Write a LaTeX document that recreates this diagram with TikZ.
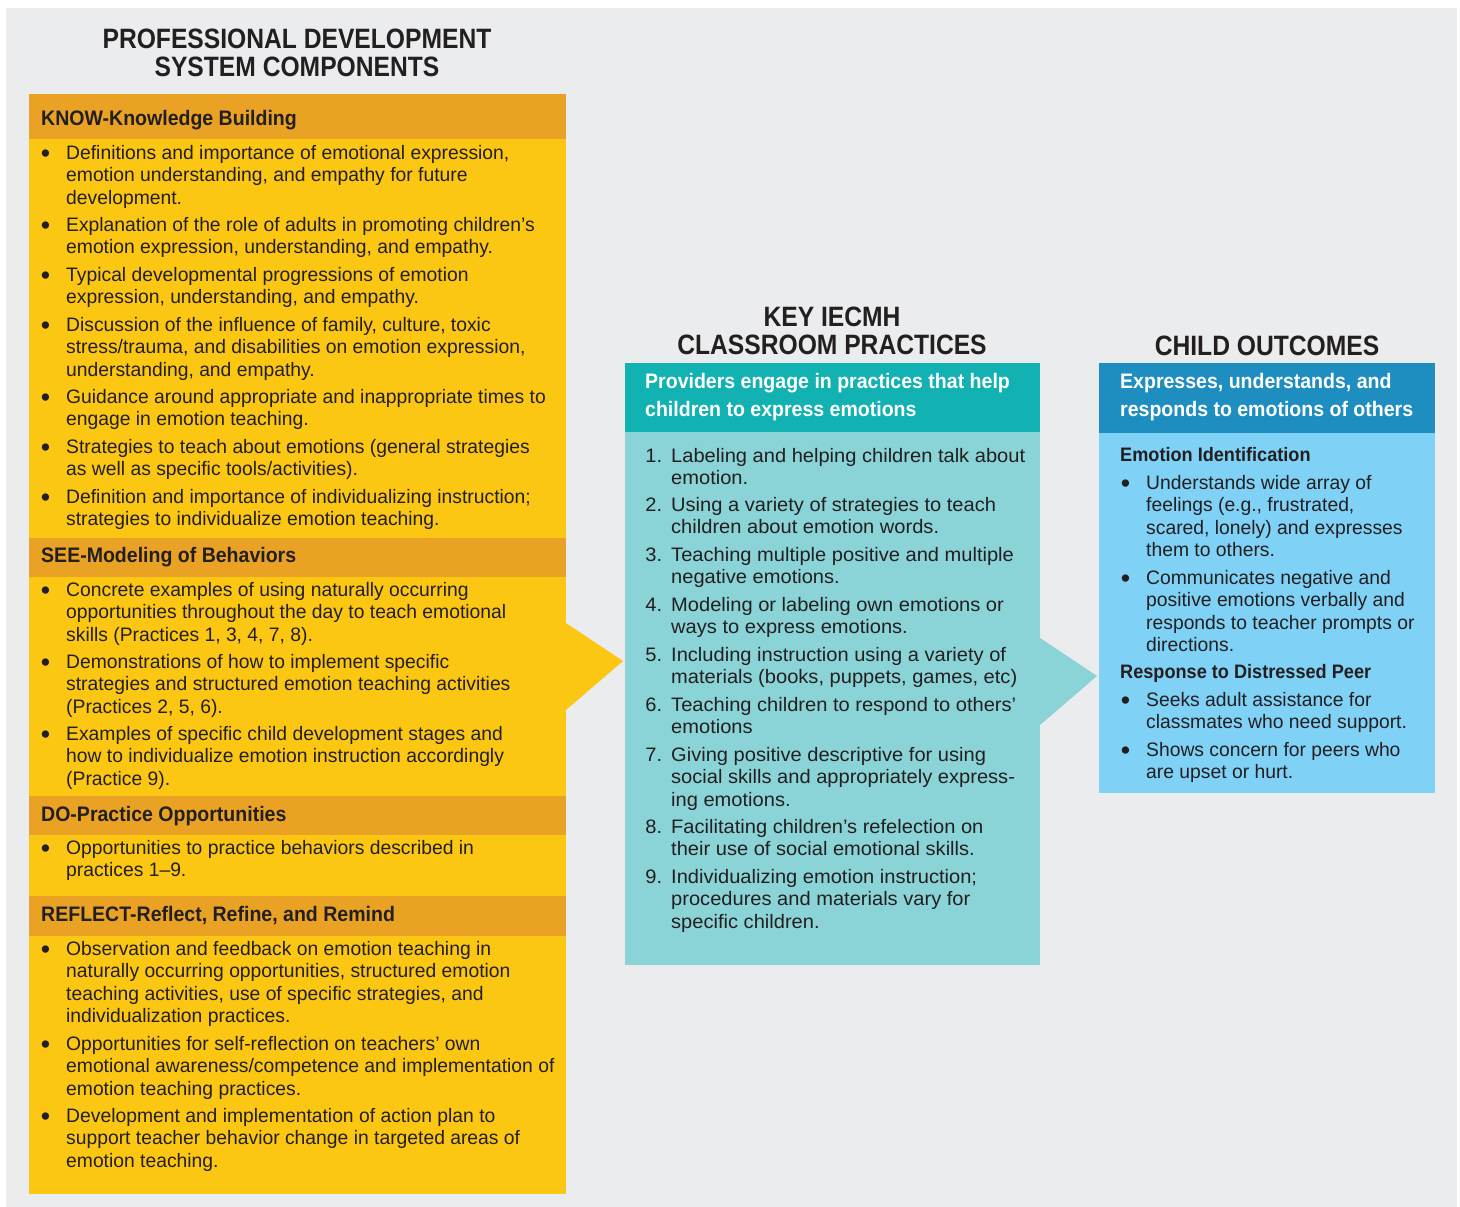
\documentclass[tikz,border=0pt]{standalone}
\usepackage{fontspec}
\setmainfont{Liberation Sans}[FakeStretch=0.88]
\newfontfamily\hdrff{Liberation Sans}[FakeStretch=0.93]
\newfontfamily\bodyff{Liberation Sans}[FakeStretch=0.99]
\newfontfamily\midff{Liberation Sans}[FakeStretch=1.03]
\definecolor{bg}{HTML}{EBECEE}
\definecolor{ink}{HTML}{231F20}
\definecolor{orhdr}{HTML}{E9A224}
\definecolor{yel}{HTML}{FCC712}
\definecolor{tealhdr}{HTML}{12B1B2}
\definecolor{tealbody}{HTML}{8AD3D6}
\definecolor{bluehdr}{HTML}{1E8EC0}
\definecolor{bluebody}{HTML}{7FD1F6}
\newcommand{\bodyfont}{\bodyff\fontsize{19.5}{22.5}\selectfont}
\newcommand{\bul}{\llap{\raisebox{-3pt}{\fontsize{27}{22.5}\selectfont\textbullet}\hspace{16pt}}}
\newcommand{\numb}[1]{\llap{#1\hspace{9pt}}}
\tikzset{
  item/.style={anchor=north west, inner sep=0pt, align=left, font=\bodyfont, text=ink, yshift=8.75pt},
  mitem/.style={item, font=\midff\fontsize{19.5}{22.5}\selectfont},
  sechdr/.style={anchor=north west, inner sep=0pt, align=left, font=\hdrff\fontsize{21}{28}\selectfont\bfseries, text=ink, yshift=12.1pt},
  whitehdr/.style={sechdr, text=white},
  subhdr/.style={item, font=\hdrff\fontsize{19.5}{22.5}\selectfont\bfseries},
  title/.style={anchor=north, inner sep=0pt, align=center, font=\fontsize{28}{28}\selectfont\bfseries, text=ink, yshift=9.6pt},
}
\begin{document}
\begin{tikzpicture}[x=1pt,y=-1pt]
\useasboundingbox (0,0) rectangle (1460,1207);
\fill[bg] (6,8) rectangle (1457,1207);

% ---------- left panel ----------
\fill[yel] (29,94) rectangle (566,1194);
\fill[orhdr] (29,94) rectangle (566,139);
\fill[orhdr] (29,538) rectangle (566,577);
\fill[orhdr] (29,796) rectangle (566,835);
\fill[orhdr] (29,896) rectangle (566,936);
\coordinate (la1) at (566,623);
\coordinate (la2) at (623,661);
\coordinate (la3) at (566,710);
\fill[yel] (la1) -- (la2) -- (la3) -- cycle;

\node[title] (t1) at (297,38) {PROFESSIONAL DEVELOPMENT\strut\\SYSTEM COMPONENTS\strut};

\node[sechdr] (hk) at (41,118) {KNOW-Knowledge Building\strut};
\node[item] (k1) at (66,152) {\bul Definitions and importance of emotional expression,\strut\\emotion understanding, and empathy for future\strut\\development.\strut};
\node[item] (k2) at (66,224) {\bul Explanation of the role of adults in promoting children’s\strut\\emotion expression, understanding, and empathy.\strut};
\node[item] (k3) at (66,274) {\bul Typical developmental progressions of emotion\strut\\expression, understanding, and empathy.\strut};
\node[item] (k4) at (66,324) {\bul Discussion of the influence of family, culture, toxic\strut\\stress/trauma, and disabilities on emotion expression,\strut\\understanding, and empathy.\strut};
\node[item] (k5) at (66,396) {\bul Guidance around appropriate and inappropriate times to\strut\\engage in emotion teaching.\strut};
\node[item] (k6) at (66,446) {\bul Strategies to teach about emotions (general strategies\strut\\as well as specific tools/activities).\strut};
\node[item] (k7) at (66,496) {\bul Definition and importance of individualizing instruction;\strut\\strategies to individualize emotion teaching.\strut};

\node[sechdr] (hs) at (41,555) {SEE-Modeling of Behaviors\strut};
\node[item] (s1) at (66,589) {\bul Concrete examples of using naturally occurring\strut\\opportunities throughout the day to teach emotional\strut\\skills (Practices 1, 3, 4, 7, 8).\strut};
\node[item] (s2) at (66,661) {\bul Demonstrations of how to implement specific\strut\\strategies and structured emotion teaching activities\strut\\(Practices 2, 5, 6).\strut};
\node[item] (s3) at (66,733) {\bul Examples of specific child development stages and\strut\\how to individualize emotion instruction accordingly\strut\\(Practice 9).\strut};

\node[sechdr] (hd) at (41,814) {DO-Practice Opportunities\strut};
\node[item] (d1) at (66,847) {\bul Opportunities to practice behaviors described in\strut\\practices 1–9.\strut};

\node[sechdr] (hr) at (41,914) {REFLECT-Reflect, Refine, and Remind\strut};
\node[item] (r1) at (66,948) {\bul Observation and feedback on emotion teaching in\strut\\naturally occurring opportunities, structured emotion\strut\\teaching activities, use of specific strategies, and\strut\\individualization practices.\strut};
\node[item] (r2) at (66,1043) {\bul Opportunities for self-reflection on teachers’ own\strut\\emotional awareness/competence and implementation of\strut\\emotion teaching practices.\strut};
\node[item] (r3) at (66,1115) {\bul Development and implementation of action plan to\strut\\support teacher behavior change in targeted areas of\strut\\emotion teaching.\strut};

% ---------- middle panel ----------
\fill[tealbody] (625,363) rectangle (1040,965);
\fill[tealhdr] (625,363) rectangle (1040,432);
\coordinate (ma1) at (1040,638);
\coordinate (ma2) at (1097,676);
\coordinate (ma3) at (1040,725);
\fill[tealbody] (ma1) -- (ma2) -- (ma3) -- cycle;

\node[title] (t2) at (832,316) {KEY IECMH\strut\\CLASSROOM PRACTICES\strut};
\node[whitehdr] (mh) at (645,381) {Providers engage in practices that help\strut\\children to express emotions\strut};
\node[mitem] (p1) at (671,455) {\numb{1.}Labeling and helping children talk about\strut\\emotion.\strut};
\node[mitem] (p2) at (671,504) {\numb{2.}Using a variety of strategies to teach\strut\\children about emotion words.\strut};
\node[mitem] (p3) at (671,554) {\numb{3.}Teaching multiple positive and multiple\strut\\negative emotions.\strut};
\node[mitem] (p4) at (671,604) {\numb{4.}Modeling or labeling own emotions or\strut\\ways to express emotions.\strut};
\node[mitem] (p5) at (671,654) {\numb{5.}Including instruction using a variety of\strut\\materials (books, puppets, games, etc)\strut};
\node[mitem] (p6) at (671,704) {\numb{6.}Teaching children to respond to others’\strut\\emotions\strut};
\node[mitem] (p7) at (671,754) {\numb{7.}Giving positive descriptive for using\strut\\social skills and appropriately express-\strut\\ing emotions.\strut};
\node[mitem] (p8) at (671,826) {\numb{8.}Facilitating children’s refelection on\strut\\their use of social emotional skills.\strut};
\node[mitem] (p9) at (671,876) {\numb{9.}Individualizing emotion instruction;\strut\\procedures and materials vary for\strut\\specific children.\strut};

% ---------- right panel ----------
\fill[bluebody] (1099,363) rectangle (1435,793);
\fill[bluehdr] (1099,363) rectangle (1435,433);

\node[title] (t3) at (1267,345) {CHILD OUTCOMES\strut};
\node[whitehdr] (oh) at (1120,381) {Expresses, understands, and\strut\\responds to emotions of others\strut};
\node[subhdr] (ei) at (1120,454) {Emotion Identification\strut};
\node[item] (o1) at (1146,482) {\bul Understands wide array of\strut\\feelings (e.g., frustrated,\strut\\scared, lonely) and expresses\strut\\them to others.\strut};
\node[item] (o2) at (1146,577) {\bul Communicates negative and\strut\\positive emotions verbally and\strut\\responds to teacher prompts or\strut\\directions.\strut};
\node[subhdr] (rd) at (1120,671) {Response to Distressed Peer\strut};
\node[item] (o3) at (1146,699) {\bul Seeks adult assistance for\strut\\classmates who need support.\strut};
\node[item] (o4) at (1146,749) {\bul Shows concern for peers who\strut\\are upset or hurt.\strut};
\end{tikzpicture}
\end{document}
